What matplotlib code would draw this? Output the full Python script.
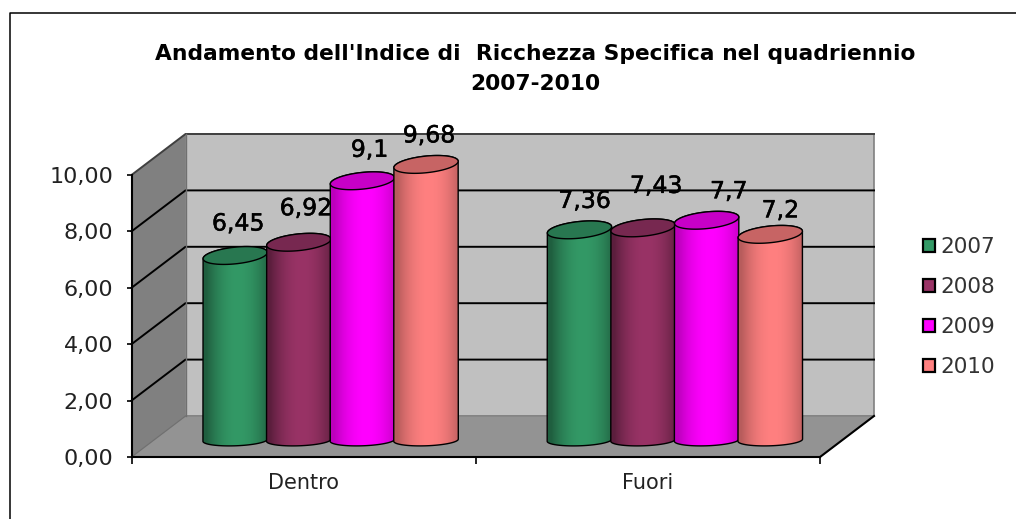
import numpy as np
import matplotlib
matplotlib.use("Agg")
import matplotlib.pyplot as plt
import matplotlib.patheffects as pe
from matplotlib.patches import Polygon, Patch
from matplotlib.lines import Line2D
from matplotlib.colors import to_rgb
from matplotlib.ticker import FuncFormatter

categories = ["Dentro", "Fuori"]
years = ["2007", "2008", "2009", "2010"]
values_2007 = [6.45, 7.36]
values_2008 = [6.92, 7.43]
values_2009 = [9.1, 7.7]
values_2010 = [9.68, 7.2]
series = [values_2007, values_2008, values_2009, values_2010]
label_texts = [["6,45", "7,36"], ["6,92", "7,43"], ["9,1", "7,7"], ["9,68", "7,2"]]
colors = ["#339966", "#993366", "#FF00FF", "#FF8080"]
# manual label nudges in px (series, category)
label_nudge = [[(3, 32), (5, 29)], [(7, 34), (13, 42)], [(7, 31), (22, 29)], [(3, 29), (10, 24)]]

W, H = 1016, 519
fig = plt.figure(figsize=(W / 100, H / 100), dpi=100, facecolor="white")
L, R, B, T = 131.5, 820.0, 457.0, 175.0
ax = fig.add_axes([L / W, 1 - B / H, (R - L) / W, (B - T) / H])
ax.set_xlim(0, 2)
ax.set_ylim(0, 10)
ax.patch.set_visible(False)
px = 2 / (R - L)
py = 10 / (B - T)
DX, DY = 54 * px, 41 * py
FONT = "DejaVu Sans"

def poly(pts, **kw):
    p = Polygon(pts, closed=True, clip_on=False, **kw)
    ax.add_patch(p)
    return p

# walls
poly([(0, 0), (DX, DY), (DX, 10 + DY), (0, 10)], fc="#808080", ec="none", zorder=1)
poly([(DX, DY), (2 + DX, DY), (2 + DX, 10 + DY), (DX, 10 + DY)], fc="#C0C0C0", ec="#808080", lw=1.2, zorder=1)
poly([(0, 0), (2, 0), (2 + DX, DY), (DX, DY)], fc="#939393", ec="#808080", lw=0.8, zorder=1)
for g in [2, 4, 6, 8]:
    ax.plot([0, DX, 2 + DX], [g, g + DY, g + DY], color="black", lw=1.4, clip_on=False, zorder=2)
ax.plot([0, DX, 2 + DX], [10, 10 + DY, 10 + DY], color="#404040", lw=1.4, clip_on=False, zorder=2)
ax.plot([DX, DX], [DY, 10 + DY], color="#707070", lw=1, clip_on=False, zorder=2)
ax.plot([0, DX], [0, DY], color="#707070", lw=0.8, clip_on=False, zorder=2)

# cylinders
bar_w = 63.6 * px
a_px = 32.3

def ell(cx, cy, t, b_px, tilt_deg):
    tilt = np.deg2rad(tilt_deg)
    ex = a_px * np.cos(t) * np.cos(tilt) - b_px * np.sin(t) * np.sin(tilt)
    ey = a_px * np.cos(t) * np.sin(tilt) + b_px * np.sin(t) * np.cos(tilt)
    return cx + ex * px, cy + ey * py

def right_t(b_px, tilt_deg):
    tilt = np.deg2rad(tilt_deg)
    return np.arctan2(-b_px * np.sin(tilt), a_px * np.cos(tilt))

TOP_B, TOP_TILT = 8.3, 6
BASE_B, BASE_TILT = 5.6, 2
edge_levels = [0.62, 0.6, 0.74, 0.72]
z = 10
for si, vals in enumerate(series):
    rgb = np.array(to_rgb(colors[si]))
    for ci, v in enumerate(vals):
        cx = ci + 0.5 + DX / 2 + (si - 1.5) * bar_w
        base = 0.695
        top = base + v
        base_c = base - 2.8 * py
        t_b = right_t(BASE_B, BASE_TILT)
        t_t = right_t(TOP_B, TOP_TILT)
        bx, by = ell(cx, base_c, np.linspace(t_b, t_b - np.pi, 50), BASE_B, BASE_TILT)
        ux, uy = ell(cx, top, np.linspace(t_t + np.pi, t_t, 50), TOP_B, TOP_TILT)
        body = list(zip(bx, by)) + list(zip(ux, uy))
        poly(body, fc="none", ec="black", lw=1.0, zorder=z + 2)
        u = np.linspace(0, 1, 128)
        e = edge_levels[si]
        shade = e + (1 - e) * np.clip(1 - (np.abs(u - 0.55) / 0.5) ** 2, 0, 1)
        img = shade[None, :, None] * rgb[None, None, :]
        im = ax.imshow(img, extent=[cx - bar_w / 2, cx + bar_w / 2, base - 1, top + 1],
                       aspect="auto", zorder=z, interpolation="bilinear")
        im.set_clip_box(fig.bbox)
        im.set_clip_path(Polygon(body, closed=True, transform=ax.transData))
        ex, ey = ell(cx, top, np.linspace(0, 2 * np.pi, 100), TOP_B, TOP_TILT)
        poly(list(zip(ex, ey)), fc=tuple(rgb * 0.78), ec="black", lw=1.0, zorder=z + 3)
        ni = label_nudge[si][ci]
        ax.text(cx + ni[0] * px, top + ni[1] * py, label_texts[si][ci], ha="center", va="center",
                fontsize=17, color="black", family=FONT, zorder=100, clip_on=False,
                path_effects=[pe.withStroke(linewidth=0.35, foreground="black")])
        z += 5
ax.set_xlim(0, 2)
ax.set_ylim(0, 10)

# axes
for s in ["top", "right"]:
    ax.spines[s].set_visible(False)
for s in ["left", "bottom"]:
    ax.spines[s].set_linewidth(1.5)
    ax.spines[s].set_zorder(5)
ax.plot([2, 2 + DX], [0, DY], color="black", lw=1.5, clip_on=False, zorder=5)
ax.set_yticks([0, 2, 4, 6, 8, 10])
ax.yaxis.set_major_formatter(FuncFormatter(lambda v, _: f"{v:.2f}".replace(".", ",")))
ax.set_xticks([0, 1, 2])
ax.set_xticklabels([])
ax.set_xticks([0.5, 1.5], minor=True)
ax.set_xticklabels(categories, minor=True)
ax.tick_params(axis="x", which="minor", length=0, pad=11.5, labelsize=15, labelcolor="#222222")
ax.tick_params(axis="x", which="major", length=5, width=1.2)
ax.tick_params(axis="y", length=3.5, width=1.2, pad=9.5, labelsize=16, labelcolor="#222222")

# title
fig.text(535 / W, 1 - 54 / H, "Andamento dell'Indice di  Ricchezza Specifica nel quadriennio",
         ha="center", va="center", fontsize=15.65, fontweight="bold", family=FONT)
fig.text(535 / W, 1 - 84 / H, "2007-2010", ha="center", va="center", fontsize=15.65, fontweight="bold", family=FONT)

# legend
handles = [Patch(fc=c, ec="black", lw=1.6) for c in colors]
leg = fig.legend(handles, years, loc="center left", bbox_to_anchor=(923 / W, 1 - 307 / H), frameon=False,
                 fontsize=15.5, labelspacing=0.93, handlelength=0.58, handleheight=0.58,
                 handletextpad=0.25, borderpad=0, borderaxespad=0, labelcolor="#333333")

# outer border: only top and left lines are visible
fig.add_artist(Line2D([9.5 / W, 9.5 / W, 1], [0, 1 - 12.5 / H, 1 - 12.5 / H], transform=fig.transFigure,
                      color="black", lw=1.1))
fig.savefig("out.png", dpi=100)
